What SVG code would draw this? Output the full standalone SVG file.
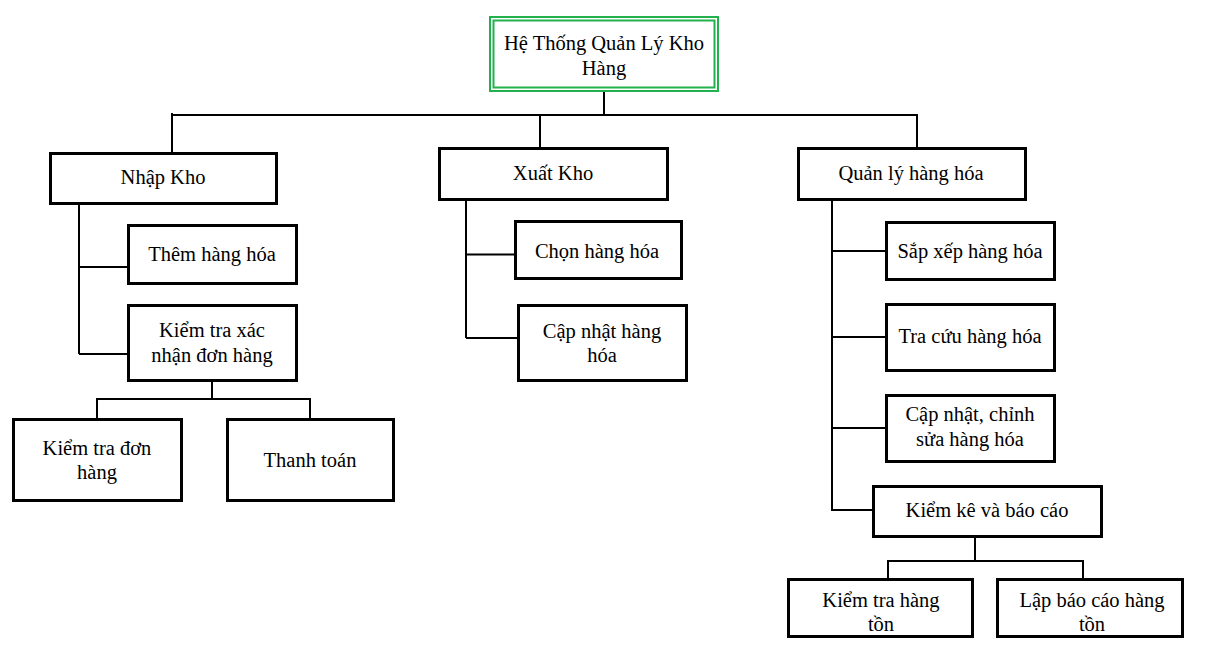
<svg xmlns="http://www.w3.org/2000/svg" width="1212" height="654" viewBox="0 0 1212 654">
<style>
.box{fill:#fff;stroke:#000;stroke-width:3}
.root{fill:none;stroke:#22b14c;stroke-width:2}
.t{font-family:"Liberation Serif","Times New Roman",serif;font-size:20.5px;fill:#000;text-anchor:middle}
.c{fill:none;stroke:#000;stroke-width:2}
</style>
<rect width="1212" height="654" fill="#fff"/>
<g id="connectors">
<path class="c" d="M604,92 V115 M172,113 V153 M171,115 H918 M540,115 V148 M917,115 V148"/>
<path class="c" d="M79,204 V354 M79,267 H128 M79,354 H128"/>
<path class="c" d="M212,380 V399 M97,399 H311 M97,398 V419 M310,398 V419"/>
<path class="c" d="M466,200 V338 M466,338 H518"/>
<path class="c" stroke-width="1.5" d="M466,254.5 H515"/>
<path class="c" d="M832,200 V511 M832,251 H887 M832,337 H887 M832,428 H886 M832,510 H873"/>
<path class="c" d="M975,536 V561 M888,561 H1084 M888,560 V579 M1083,560 V579"/>
</g>
<g id="root">
<rect class="root" x="490" y="17" width="228" height="74"/>
<rect class="root" x="493.5" y="20.5" width="221" height="67"/>
<text class="t" x="604" y="50">Hệ Thống Quản Lý Kho</text>
<text class="t" x="604" y="75">Hàng</text>
</g>
<g id="nhap-kho">
<rect class="box" x="50.5" y="153.5" width="226" height="50"/>
<text class="t" x="163" y="184">Nhập Kho</text>
</g>
<g id="them-hang-hoa">
<rect class="box" x="128.5" y="225.5" width="168" height="58"/>
<text class="t" x="212" y="261">Thêm hàng hóa</text>
</g>
<g id="kiem-tra-xac-nhan">
<rect class="box" x="128.5" y="305.5" width="168" height="75"/>
<text class="t" x="212" y="337">Kiểm tra xác</text>
<text class="t" x="212" y="362">nhận đơn hàng</text>
</g>
<g id="kiem-tra-don-hang">
<rect class="box" x="13.5" y="419.5" width="168" height="81"/>
<text class="t" x="97" y="455">Kiểm tra đơn</text>
<text class="t" x="97" y="479">hàng</text>
</g>
<g id="thanh-toan">
<rect class="box" x="227.5" y="419.5" width="166" height="81"/>
<text class="t" x="310" y="467">Thanh toán</text>
</g>
<g id="xuat-kho">
<rect class="box" x="439.5" y="148.5" width="228" height="51"/>
<text class="t" x="553" y="180">Xuất Kho</text>
</g>
<g id="chon-hang-hoa">
<rect class="box" x="515.5" y="221.5" width="166" height="57"/>
<text class="t" x="597" y="258">Chọn hàng hóa</text>
</g>
<g id="cap-nhat-hang-hoa">
<rect class="box" x="518.5" y="305.5" width="168" height="75"/>
<text class="t" x="602" y="338">Cập nhật hàng</text>
<text class="t" x="602" y="362">hóa</text>
</g>
<g id="quan-ly-hang-hoa">
<rect class="box" x="798.5" y="148.5" width="227" height="51"/>
<text class="t" x="911" y="180">Quản lý hàng hóa</text>
</g>
<g id="sap-xep-hang-hoa">
<rect class="box" x="886.5" y="222.5" width="168" height="57"/>
<text class="t" x="970" y="258">Sắp xếp hàng hóa</text>
</g>
<g id="tra-cuu-hang-hoa">
<rect class="box" x="886.5" y="304.5" width="168" height="66"/>
<text class="t" x="970" y="343">Tra cứu hàng hóa</text>
</g>
<g id="cap-nhat-chinh-sua">
<rect class="box" x="886.5" y="395.5" width="168" height="66"/>
<text class="t" x="970" y="421">Cập nhật, chỉnh</text>
<text class="t" x="970" y="446">sửa hàng hóa</text>
</g>
<g id="kiem-ke-bao-cao">
<rect class="box" x="873.5" y="486.5" width="228" height="50"/>
<text class="t" x="987" y="517">Kiểm kê và báo cáo</text>
</g>
<g id="kiem-tra-hang-ton">
<rect class="box" x="788.5" y="579.5" width="184" height="57"/>
<text class="t" x="881" y="607">Kiểm tra hàng</text>
<text class="t" x="881" y="631">tồn</text>
</g>
<g id="lap-bao-cao">
<rect class="box" x="997.5" y="579.5" width="185" height="57"/>
<text class="t" x="1092" y="607">Lập báo cáo hàng</text>
<text class="t" x="1092" y="631">tồn</text>
</g>
</svg>
